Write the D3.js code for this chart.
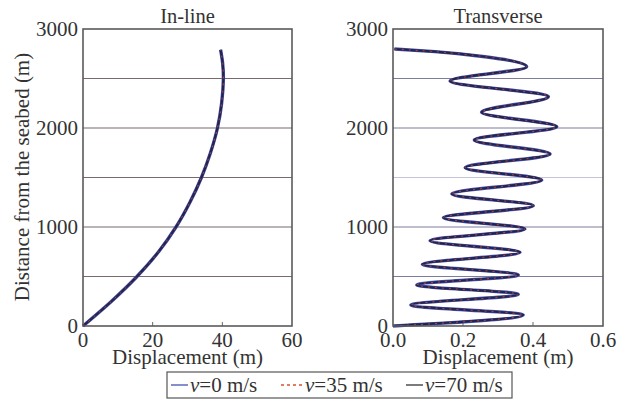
<!DOCTYPE html>
<html>
<head>
<meta charset="utf-8" />
<script src="https://cdn.jsdelivr.net/npm/d3@7"></script>
<title>Riser displacement</title>
<style>
  body { margin: 0; background: #fff; }
  text { font-family: "Liberation Serif", "Times New Roman", serif; fill: #333; }
</style>
</head>
<body>
<svg width="627" height="401" id="mainsvg"></svg>
<script>
  // depth (m) and displacement values
  const inlineDepth = [0, 250, 500, 750, 1000, 1250, 1500, 1750, 2000, 2250, 2500, 2650, 2790];
  const inlineDisp  = [0, 8.2, 15.5, 21.7, 26.7, 30.7, 34.0, 36.6, 38.6, 39.8, 40.3, 40.1, 39.5];

  const transDepth = [0, 111, 212, 320, 414, 515, 623, 744, 862, 980, 1094, 1215, 1333, 1475,
                      1599, 1737, 1879, 2013, 2158, 2316, 2475, 2619, 2720, 2771, 2798];
  const transDisp  = [0, 0.372, 0.051, 0.358, 0.068, 0.358, 0.084, 0.363, 0.106, 0.377, 0.144, 0.401,
                      0.168, 0.425, 0.206, 0.449, 0.232, 0.468, 0.253, 0.444, 0.163, 0.382, 0.263, 0.12, 0.004];

  const speeds = ['0', '35', '70'];
  const yTicks = [0, 1000, 2000, 3000];
  const gridVals = [500, 1000, 1500, 2000, 2500];

  const svg = d3.select('#mainsvg');

  const panels = [
    {title: 'In-line', x0: 83, x1: 292, domain: [0, 60], ticks: [0, 20, 40, 60], fmt: d3.format('d'),
     depth: inlineDepth, disp: inlineDisp, grid: '#766a6c', curve: d3.curveCatmullRom.alpha(0.5)},
    {title: 'Transverse', x0: 393, x1: 603, domain: [0, 0.6], ticks: [0, 0.2, 0.4, 0.6], fmt: d3.format('.1f'),
     depth: transDepth, disp: transDisp, grid: '#7c7c9c', curve: d3.curveMonotoneY}
  ];

  const y = d3.scaleLinear().domain([0, 3000]).range([326, 29]);

  // style of each speed line (v=0 wide blue, v=70 dark, v=35 red dashes)
  const lineStyle = {
    '0':  {color: '#4552b0', width: 3.4, dash: null},
    '70': {color: '#22244f', width: 2.2, dash: null},
    '35': {color: '#d8502e', width: 0.8, dash: '2,5'}
  };

  panels.forEach(p => {
    const x = d3.scaleLinear().domain(p.domain).range([p.x0, p.x1]);
    const g = svg.append('g');

    g.selectAll('.grid').data(gridVals).join('line')
      .attr('x1', p.x0).attr('x2', p.x1)
      .attr('y1', d => y(d)).attr('y2', d => y(d))
      .attr('stroke', (d) => (p.title === 'Transverse' && d === 1500) ? '#c4c4d6' : p.grid)
      .attr('stroke-width', 1.1);

    // inward x ticks
    g.selectAll('.xt').data(p.ticks.slice(1, -1)).join('line')
      .attr('x1', d => x(d)).attr('x2', d => x(d))
      .attr('y1', y(0)).attr('y2', y(0) - 4)
      .attr('stroke', '#666').attr('stroke-width', 1);

    const line = d3.line()
      .x((d, i) => x(p.disp[i]))
      .y(d => y(d))
      .curve(p.curve);

    ['0', '70', '35'].forEach(s => {
      const st = lineStyle[s];
      g.append('path')
        .attr('d', line(p.depth))
        .attr('fill', 'none')
        .attr('stroke', st.color)
        .attr('stroke-width', st.width)
        .attr('stroke-dasharray', st.dash);
    });

    g.append('rect')
      .attr('x', p.x0).attr('y', y(3000))
      .attr('width', p.x1 - p.x0).attr('height', y(0) - y(3000))
      .attr('fill', 'none').attr('stroke', '#5a5a5a').attr('stroke-width', 1.6);

    g.selectAll('.xl').data(p.ticks).join('text')
      .attr('x', d => x(d)).attr('y', 347)
      .attr('text-anchor', 'middle')
      .attr('font-size', 21)
      .text(d => p.fmt(d));

    g.selectAll('.yl').data(yTicks).join('text')
      .attr('x', p.x0 - 5).attr('y', d => y(d))
      .attr('dy', '0.33em')
      .attr('text-anchor', 'end')
      .attr('font-size', 21)
      .text(d => d);

    g.append('text')
      .attr('x', (p.x0 + p.x1) / 2).attr('y', 23)
      .attr('text-anchor', 'middle').attr('font-size', 20.5)
      .text(p.title);

    g.append('text')
      .attr('x', (p.x0 + p.x1) / 2).attr('y', 364)
      .attr('text-anchor', 'middle').attr('font-size', 21)
      .text('Displacement (m)');
  });

  svg.append('text')
    .attr('transform', 'translate(29,177) rotate(-90)')
    .attr('text-anchor', 'middle').attr('font-size', 21)
    .text('Distance from the seabed (m)');

  // legend
  const lg = svg.append('g');
  lg.append('rect').attr('x', 167).attr('y', 372).attr('width', 345).attr('height', 26)
    .attr('fill', '#fff').attr('stroke', '#555').attr('stroke-width', 1.2);
  const legendX = {'0': 171, '35': 281, '70': 406};
  const legendW = {'0': 17, '35': 22, '70': 17};
  speeds.forEach(s => {
    const st = lineStyle[s];
    lg.append('line')
      .attr('x1', legendX[s]).attr('x2', legendX[s] + legendW[s])
      .attr('y1', 385).attr('y2', 385)
      .attr('stroke', s === '70' ? '#333' : st.color)
      .attr('stroke-width', s === '35' ? 1.5 : 1.3)
      .attr('stroke-dasharray', s === '35' ? '3,3' : null);
    const t = lg.append('text')
      .attr('x', legendX[s] + legendW[s] + 2).attr('y', 392)
      .attr('font-size', 21);
    t.append('tspan').attr('font-style', 'italic').text('v');
    t.append('tspan').text('=' + s + ' m/s');
  });
</script>
</body>
</html>
